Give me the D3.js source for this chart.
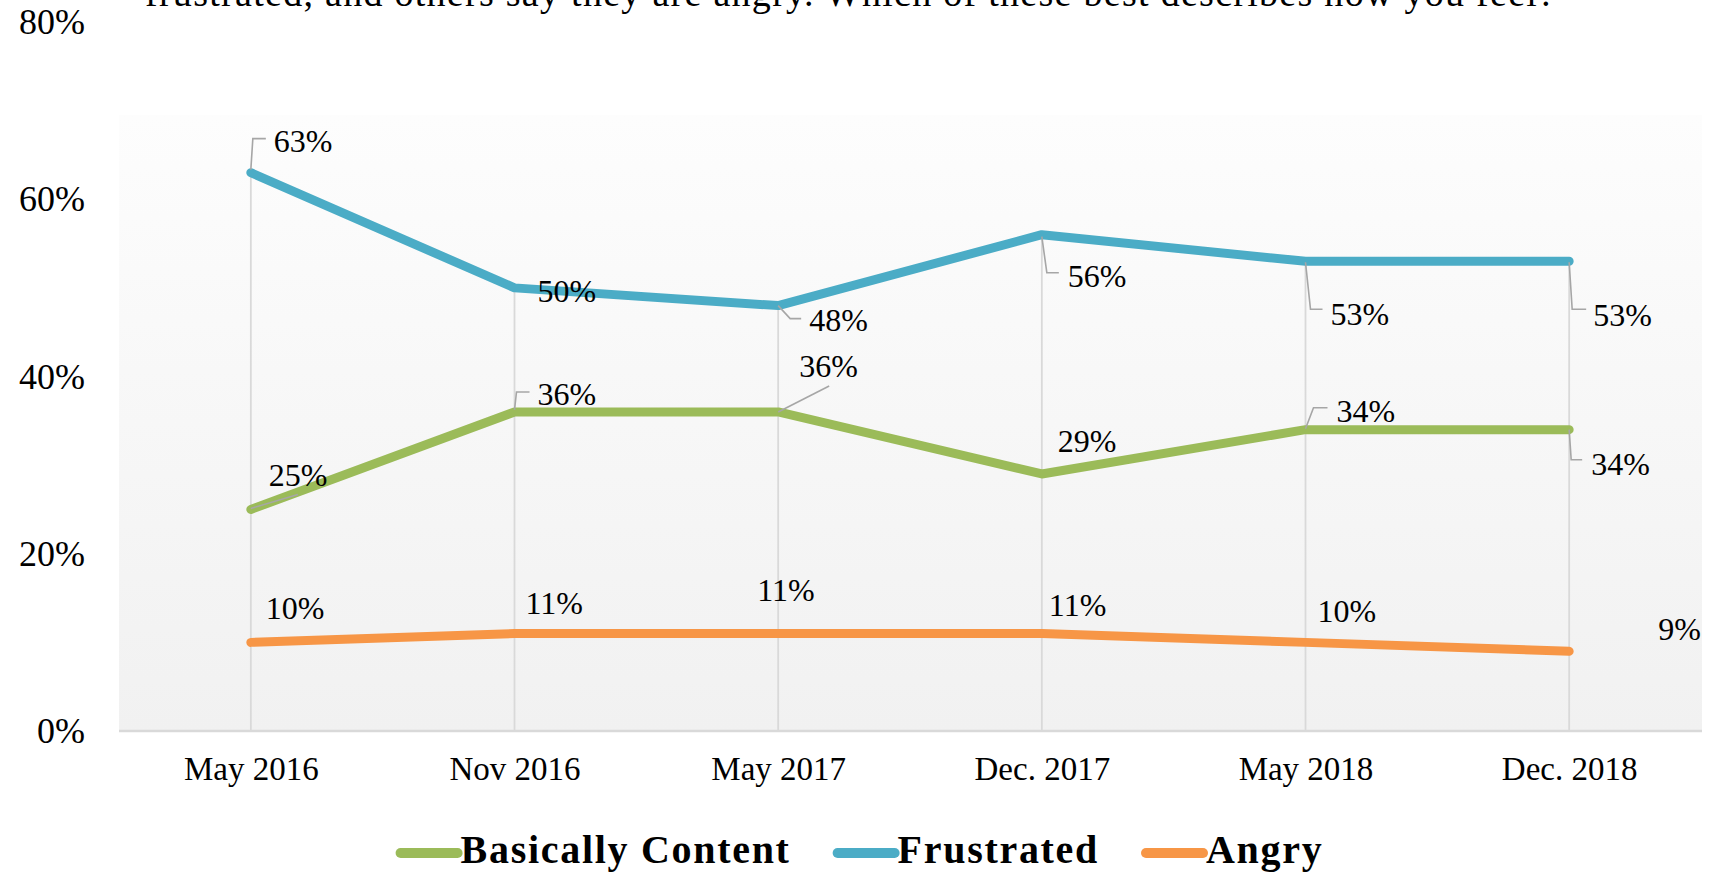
<!DOCTYPE html>
<html>
<head>
<meta charset="utf-8">
<script src="https://cdn.jsdelivr.net/npm/d3@7"></script>
<style>
  body { margin: 0; background: #fff; }
  svg { display: block; }
  text { font-family: "Liberation Serif", "DejaVu Serif", serif; fill: #000; }
</style>
</head>
<body>
<svg id="chart" width="1720" height="873"></svg>
<script>

// data
var categories = ['May 2016', 'Nov 2016', 'May 2017', 'Dec. 2017', 'May 2018', 'Dec. 2018'];
var contentValues = [25, 36, 36, 29, 34, 34];
var frustratedValues = [63, 50, 48, 56, 53, 53];
var angryValues = [10, 11, 11, 11, 10, 9];
var seriesNames = ['Basically Content', 'Frustrated', 'Angry'];
var seriesColors = ['#9BBB59', '#4BACC6', '#F79646'];
var yTicks = [0, 20, 40, 60, 80];
var titleText = 'frustrated, and others say they are angry.  Which of these best describes how you feel?';

// label placement (offsets from the point, px)
var contentLabelPos = [[18, -23], [23, -7], [21, -35], [16, -22], [31, -8], [22, 45]];
var frustratedLabelPos = [[23, -21], [23, 14], [31, 25], [26, 52], [25, 64], [24, 65]];
var angryLabelPos = [[15, -23], [11, -20], [-21, -33], [7, -18], [12, -20], [89, -11]];

// leader lines (offsets from the point, px)
var contentLeaders = [
	[[0, -1], [47, -15]],
	[[0, -2], [2, -20], [15, -20]],
	[[0, 0], [51, -26]],
	null,
	[[0, -1], [8, -22], [22, -22]],
	[[0, 0], [2, 30], [13, 30]]
];
var frustratedLeaders = [
	[[0, -3], [2, -34], [15, -34]],
	null,
	[[0, 0], [12, 13], [23, 13]],
	[[0, 2], [5, 38], [17, 38]],
	[[0, 1], [5, 48], [17, 48]],
	[[0, 1], [3, 48], [17, 48]]
];
var angryLeaders = [null, null, null, null, null, null];

var svg = d3.select('#chart');

var plotLeft = 119, plotRight = 1701, plotTop = 115, plotBottom = 731;

var x = d3.scalePoint()
	.domain(categories)
	.range([plotLeft, plotRight])
	.padding(0.5);

var y = d3.scaleLinear()
	.domain([0, 80])
	.range([plotBottom, 22]);

// background gradient of the plot area
var defs = svg.append('defs');
var grad = defs.append('linearGradient')
	.attr('id', 'plotGrad')
	.attr('x1', 0).attr('y1', 0)
	.attr('x2', 0).attr('y2', 1);
grad.append('stop').attr('offset', '0%').attr('stop-color', '#fdfdfd');
grad.append('stop').attr('offset', '100%').attr('stop-color', '#f1f1f1');

svg.append('rect')
	.attr('x', plotLeft)
	.attr('y', plotTop)
	.attr('width', plotRight - plotLeft + 1)
	.attr('height', plotBottom - plotTop)
	.attr('fill', 'url(#plotGrad)');

// title (cut off at the top)
svg.append('text')
	.attr('x', 145)
	.attr('y', 6)
	.attr('font-size', 38)
	.attr('textLength', 1410)
	.attr('lengthAdjust', 'spacing')
	.text(titleText);

// drop lines from highest point to the axis
var tops = categories.map(function (c, i) {
	return d3.max([contentValues[i], frustratedValues[i], angryValues[i]]);
});
svg.selectAll('line.drop')
	.data(categories)
	.enter()
	.append('line')
	.attr('class', 'drop')
	.attr('x1', function (d) { return x(d); })
	.attr('x2', function (d) { return x(d); })
	.attr('y1', function (d, i) { return y(tops[i]); })
	.attr('y2', y(0))
	.attr('stroke', '#d9d9d9')
	.attr('stroke-width', 1.8);

// axes
var xAxis = svg.append('g')
	.attr('transform', 'translate(0,' + y(0) + ')')
	.call(d3.axisBottom(x).tickSize(0).tickSizeOuter(0).tickPadding(26));
xAxis.select('.domain')
	.attr('d', 'M' + plotLeft + ',0H' + (plotRight + 1))
	.attr('stroke', '#d9d9d9')
	.attr('stroke-width', 2.5);
xAxis.selectAll('text')
	.attr('font-family', '"Liberation Serif", serif')
	.attr('font-size', 33)
	.attr('fill', '#000');

var yAxis = svg.append('g')
	.attr('transform', 'translate(' + plotLeft + ',0)')
	.call(d3.axisLeft(y).tickValues(yTicks).tickFormat(function (d) { return d + '%'; })
		.tickSize(0).tickPadding(34));
yAxis.select('.domain').remove();
yAxis.selectAll('text')
	.attr('font-family', '"Liberation Serif", serif')
	.attr('font-size', 36)
	.attr('dy', '0.32em')
	.attr('fill', '#000');

// series
var series = [
	{ name: seriesNames[0], values: contentValues, color: seriesColors[0], labels: contentLabelPos, leaders: contentLeaders },
	{ name: seriesNames[1], values: frustratedValues, color: seriesColors[1], labels: frustratedLabelPos, leaders: frustratedLeaders },
	{ name: seriesNames[2], values: angryValues, color: seriesColors[2], labels: angryLabelPos, leaders: angryLeaders }
];

var line = d3.line()
	.x(function (d, i) { return x(categories[i]); })
	.y(function (d) { return y(d); });

svg.selectAll('path.series')
	.data(series)
	.enter()
	.append('path')
	.attr('class', 'series')
	.attr('d', function (s) { return line(s.values); })
	.attr('fill', 'none')
	.attr('stroke', function (s) { return s.color; })
	.attr('stroke-width', 9)
	.attr('stroke-linecap', 'round')
	.attr('stroke-linejoin', 'round');

// leader lines and data labels
var leaderLine = d3.line();
series.forEach(function (s) {
	var g = svg.append('g');
	s.values.forEach(function (v, i) {
		var px = x(categories[i]);
		var py = y(v);
		if (s.leaders[i]) {
			g.append('path')
				.attr('d', leaderLine(s.leaders[i].map(function (p) { return [px + p[0], py + p[1]]; })))
				.attr('fill', 'none')
				.attr('stroke', '#a6a6a6')
				.attr('stroke-width', 1.6);
		}
		g.append('text')
			.attr('x', px + s.labels[i][0])
			.attr('y', py + s.labels[i][1])
			.attr('font-size', 32)
			.text(v + '%');
	});
});

// legend
var legend = svg.append('g');
var swatchW = 57, swatchGap = 3, itemGap = 47;
var items = legend.selectAll('g')
	.data(series)
	.enter()
	.append('g');
items.append('line')
	.attr('x1', 0)
	.attr('x2', swatchW)
	.attr('y1', 853)
	.attr('y2', 853)
	.attr('stroke', function (s) { return s.color; })
	.attr('stroke-width', 10)
	.attr('stroke-linecap', 'round');
items.append('text')
	.attr('x', swatchW + swatchGap)
	.attr('y', 863)
	.attr('font-size', 40)
	.attr('font-weight', 'bold')
	.attr('letter-spacing', 1.7)
	.text(function (s) { return s.name; });

var offset = 0;
var widths = [];
items.each(function () {
	var w = swatchW + swatchGap + d3.select(this).select('text').node().getComputedTextLength();
	widths.push(w);
});
var total = d3.sum(widths) + itemGap * (widths.length - 1);
var start = 862 - total / 2;
items.attr('transform', function (d, i) {
	var tx = start + offset;
	offset += widths[i] + itemGap;
	return 'translate(' + tx + ',0)';
});

</script>
</body>
</html>
